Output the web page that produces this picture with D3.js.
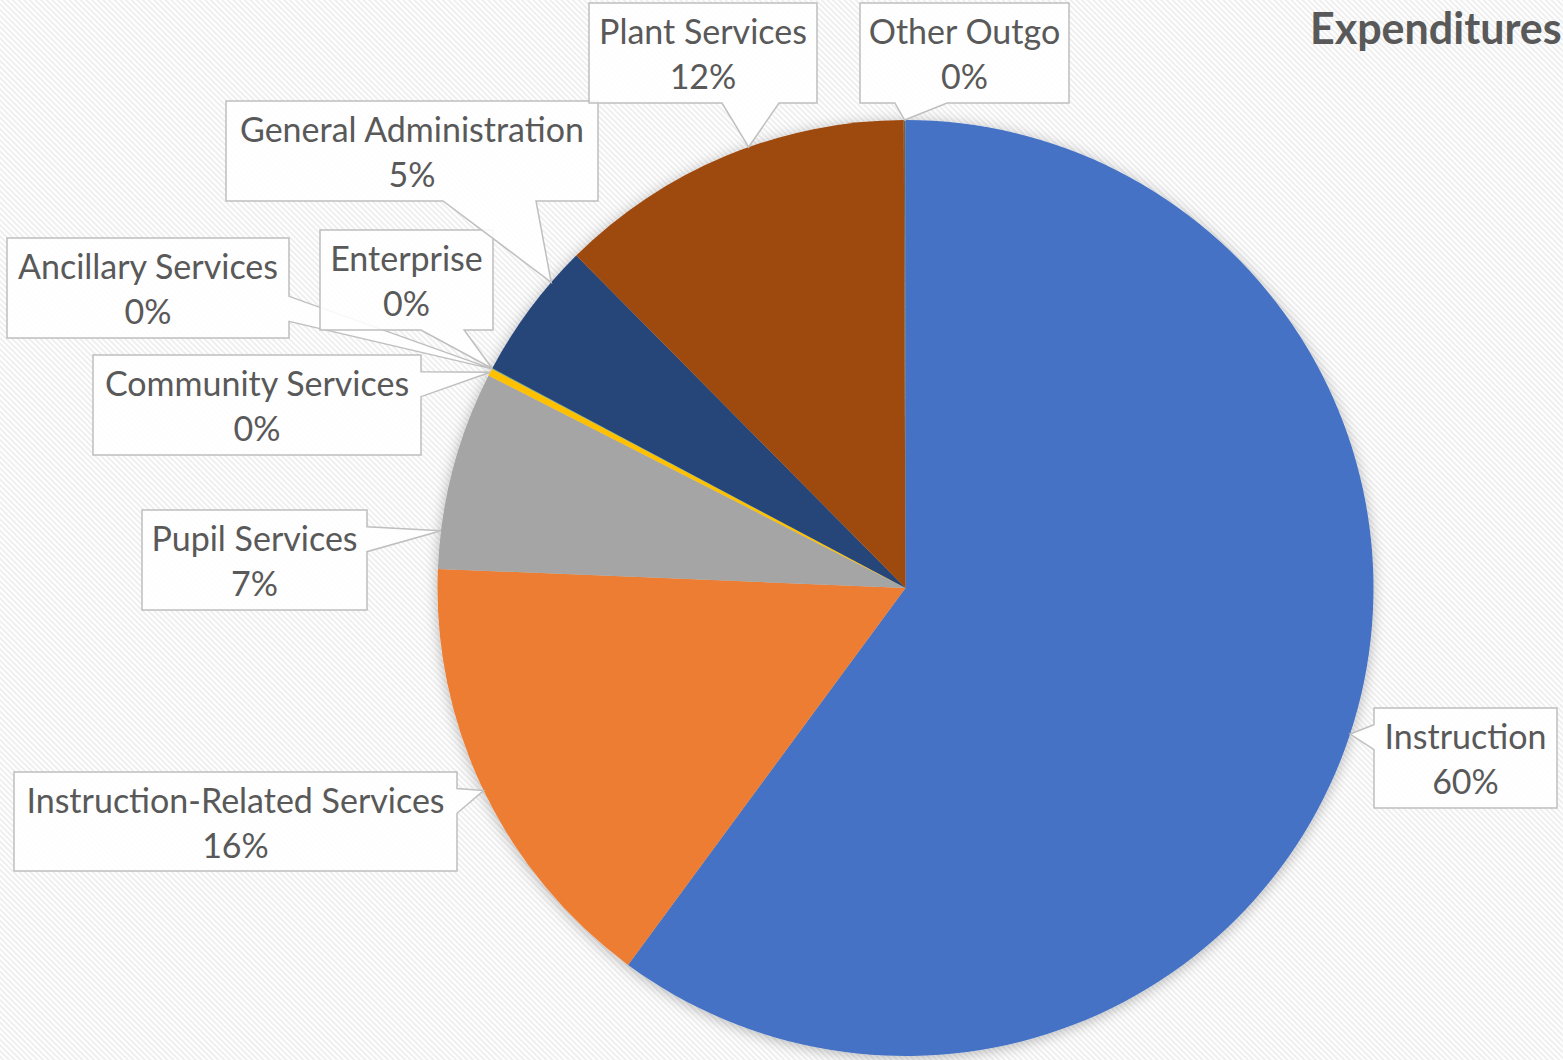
<!DOCTYPE html>
<html>
<head>
<meta charset="utf-8">
<script src="https://cdn.jsdelivr.net/npm/d3@7"></script>
<style>
  html, body { margin: 0; padding: 0; background: #ffffff; }
  svg { display: block; }
</style>
</head>
<body>
<svg id="chart" width="1563" height="1060"></svg>
<script>
// Expenditure categories, in clockwise order from 12 o'clock
const categories = [
  "Instruction",
  "Instruction-Related Services",
  "Pupil Services",
  "Community Services",
  "Ancillary Services",
  "Enterprise",
  "General Administration",
  "Plant Services",
  "Other Outgo"
];
// Share of total expenditures (percent)
const values = [60.1, 15.55, 6.85, 0.25, 0.01, 0.02, 4.8, 12.36, 0.06];
const sliceColors = ["#4472c4", "#ed7d31", "#a5a5a5", "#ffc000", "#5b9bd5", "#70ad47", "#264478", "#9e480e", "#636363"];
const chartTitle = "Expenditures";

// Callout boxes: box corner/size and where along its slice the pointer lands (0..1)
const callouts = [
  { x: 1374, y: 708, w: 183, h: 100, t: 0.5 },
  { x: 14,   y: 772, w: 443, h: 99,  t: 0.5 },
  { x: 142,  y: 510, w: 225, h: 100, t: 0.19 },
  { x: 93,   y: 355, w: 328, h: 100, t: 0.5 },
  { x: 7,    y: 238, w: 282, h: 100, t: 0.5 },
  { x: 320,  y: 230, w: 173, h: 100, t: 0.5 },
  { x: 226,  y: 101, w: 372, h: 100, t: 0.74 },
  { x: 589,  y: 3,   w: 228, h: 100, t: 0.565 },
  { x: 860,  y: 3,   w: 209, h: 100, t: 0.5 }
];

const W = 1563, H = 1060;
const cx = 905.5, cy = 588, R = 468;
const textColor = "#595959";
const fontFamily = "Lato, 'Open Sans', sans-serif";

const svg = d3.select("#chart");
const defs = svg.append("defs");

// Fine diagonal stripe texture for the background
const pat = defs.append("pattern")
  .attr("id", "stripes")
  .attr("patternUnits", "userSpaceOnUse")
  .attr("width", 4).attr("height", 4)
  .attr("patternTransform", "rotate(-45)");
pat.append("rect").attr("width", 4).attr("height", 4).attr("fill", "#ffffff");
pat.append("rect").attr("x", 0).attr("width", 2).attr("height", 4).attr("fill", "#efefef");

// Soft shadow around the pie
const shadow = defs.append("filter").attr("id", "pieShadow")
  .attr("x", "-10%").attr("y", "-10%").attr("width", "120%").attr("height", "120%");
shadow.append("feDropShadow")
  .attr("dx", 0).attr("dy", 2)
  .attr("stdDeviation", 7)
  .attr("flood-color", "#000000")
  .attr("flood-opacity", 0.28);

svg.append("rect").attr("width", W).attr("height", H).attr("fill", "url(#stripes)");

const total = d3.sum(values);
const pie = d3.pie().sort(null).value(d => d).startAngle(0).endAngle(2 * Math.PI);
const arcs = pie(values);
const arc = d3.arc().innerRadius(0).outerRadius(R);

const pieG = svg.append("g")
  .attr("transform", `translate(${cx},${cy})`)
  .attr("filter", "url(#pieShadow)");

pieG.selectAll("path")
  .data(arcs)
  .join("path")
  .attr("d", arc)
  .attr("fill", (d, i) => sliceColors[i]);

// Rectangle with a wedge pointing at (tx, ty); the wedge base sits on the
// side facing the target, one quarter of that side wide.
function calloutPath(b, tx, ty) {
  const { x, y, w, h } = b;
  const dxPos = tx - (x + w / 2);
  const dyPos = ty - (y + h / 2);
  const horizontal = Math.abs(dxPos * h / w) > Math.abs(dyPos);
  const xg1 = dxPos > 0 ? 7 : 2, xg2 = dxPos > 0 ? 10 : 5;
  const yg1 = dyPos > 0 ? 7 : 2, yg2 = dyPos > 0 ? 10 : 5;
  const x1 = x + w * xg1 / 12, x2 = x + w * xg2 / 12;
  const y1 = y + h * yg1 / 12, y2 = y + h * yg2 / 12;
  const p = d3.path();
  p.moveTo(x, y);
  if (!horizontal && dyPos < 0) { p.lineTo(x1, y); p.lineTo(tx, ty); p.lineTo(x2, y); }
  p.lineTo(x + w, y);
  if (horizontal && dxPos > 0) { p.lineTo(x + w, y1); p.lineTo(tx, ty); p.lineTo(x + w, y2); }
  p.lineTo(x + w, y + h);
  if (!horizontal && dyPos >= 0) { p.lineTo(x2, y + h); p.lineTo(tx, ty); p.lineTo(x1, y + h); }
  p.lineTo(x, y + h);
  if (horizontal && dxPos <= 0) { p.lineTo(x, y2); p.lineTo(tx, ty); p.lineTo(x, y1); }
  p.closePath();
  return p.toString();
}

const labelG = svg.append("g");
arcs.forEach((a, i) => {
  const b = callouts[i];
  const ang = a.startAngle + b.t * (a.endAngle - a.startAngle);
  const tx = cx + R * Math.sin(ang);
  const ty = cy - R * Math.cos(ang);
  const g = labelG.append("g");
  g.append("path")
    .attr("d", calloutPath(b, tx, ty))
    .attr("fill", "#ffffff")
    .attr("fill-opacity", 0.88)
    .attr("stroke", "#bfbfbf")
    .attr("stroke-width", 1.5)
    .attr("stroke-linejoin", "miter");
  const t = g.append("text")
    .attr("text-anchor", "middle")
    .attr("font-family", fontFamily)
    .attr("font-size", 34)
    .attr("fill", textColor);
  t.append("tspan").attr("x", b.x + b.w / 2).attr("y", b.y + 41).text(categories[i]);
  t.append("tspan").attr("x", b.x + b.w / 2).attr("y", b.y + 86)
    .text(Math.round(values[i] / total * 100) + "%");
});

svg.append("text")
  .attr("x", 1310).attr("y", 44)
  .attr("font-family", fontFamily)
  .attr("font-weight", "bold")
  .attr("font-size", 43)
  .attr("fill", textColor)
  .text(chartTitle);
</script>
</body>
</html>
